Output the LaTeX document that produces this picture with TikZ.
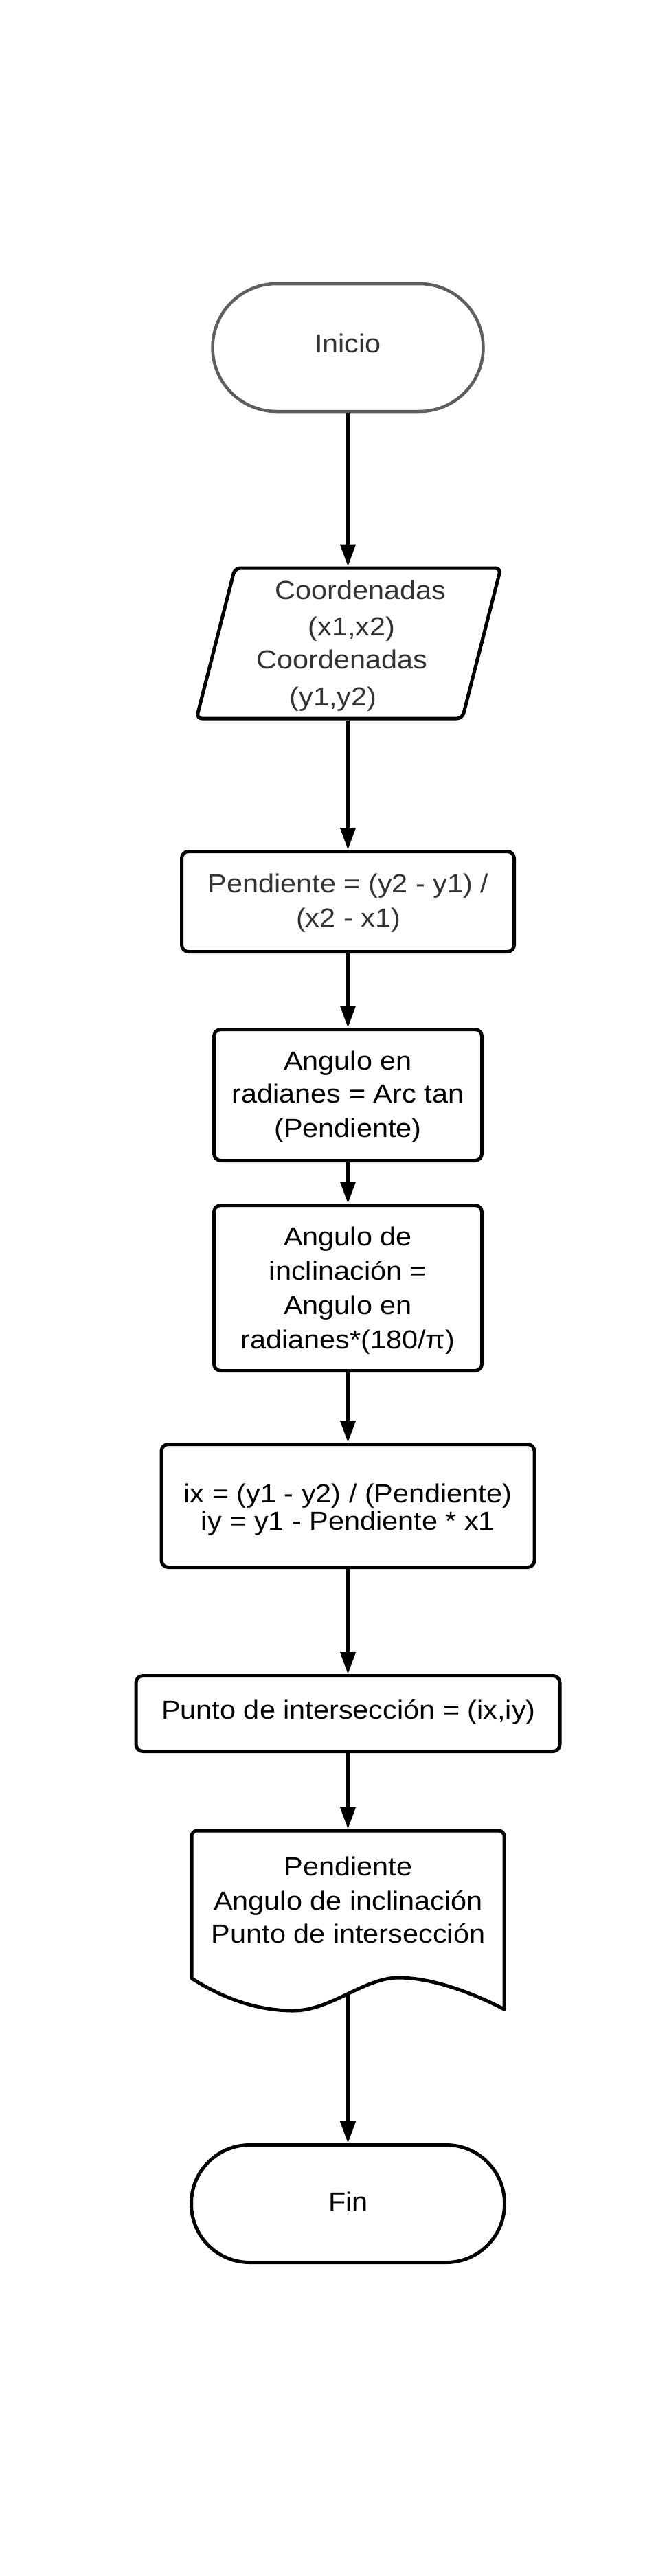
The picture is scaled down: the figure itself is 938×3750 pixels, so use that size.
\documentclass[tikz,border=0pt]{standalone}
\usepackage{fontspec}
\setmainfont{Liberation Sans}[FakeStretch=1.09]
\usetikzlibrary{arrows.meta}
\definecolor{txtgray}{HTML}{333333}
\definecolor{startgray}{HTML}{5E5E5E}
\begin{document}
\begin{tikzpicture}[x=1pt,y=-1pt,
  box/.style={draw=black, line width=5pt, rounded corners=10pt, fill=white, inner sep=0pt},
  termbox/.style={draw=black, line width=5pt, fill=white, inner sep=0pt},
  shapeline/.style={draw=black, line width=5pt, fill=white, line join=round},
  lbl/.style={anchor=base, font=\fontsize{38}{46}\selectfont, inner sep=0pt, text=black},
  glbl/.style={lbl, text=txtgray},
  conn/.style={draw=black, line width=4.5pt, -{Triangle[length=32pt,width=22pt]}}
]
\useasboundingbox (0,0) rectangle (938,3750);
\fill[white] (0,0) rectangle (938,3750);

% Inicio
\node[termbox, draw=startgray, line width=4.5pt, rounded corners=93pt, minimum width=394pt, minimum height=186pt] (inicio) at (506.5,506) {};
\node[glbl] (tinicio) at (506.5,513) {Inicio};

% Parallelogram (input)
\draw[shapeline, rounded corners=8pt] (342,827) -- (729,827) -- (673,1046) -- (286,1046) -- cycle;
\coordinate (parTop) at (506.5,824.5);
\coordinate (parBot) at (506.5,1048.5);
\node[glbl] (tp1) at (525,872) {Coordenadas};
\node[glbl] (tp2) at (512,925) {(x1,x2)};
\node[glbl] (tp3) at (498,973) {Coordenadas};
\node[glbl] (tp4) at (485,1027) {(y1,y2)};

% Pendiente
\node[box, minimum width=484pt, minimum height=146pt] (pend) at (506.5,1312.5) {};
\node[glbl] (tpe1) at (507,1299) {Pendiente = (y2 - y1) /};
\node[glbl] (tpe2) at (507,1349) {(x2 - x1)};

% Angulo en radianes
\node[box, minimum width=390pt, minimum height=191pt] (angen) at (506.5,1594) {};
\node[lbl] (tae1) at (506.5,1557) {Angulo en};
\node[lbl] (tae2) at (506.5,1605) {radianes = Arc tan};
\node[lbl] (tae3) at (506.5,1655) {(Pendiente)};

% Angulo de inclinacion
\node[box, minimum width=390pt, minimum height=241pt] (angde) at (506.5,1875) {};
\node[lbl] (tad1) at (506.5,1813) {Angulo de};
\node[lbl] (tad2) at (506.5,1863) {inclinación =};
\node[lbl] (tad3) at (506.5,1913) {Angulo en};
\node[lbl] (tad4) at (506.5,1963) {radianes*(180/π)};

% ix iy
\node[box, minimum width=543pt, minimum height=179pt] (ixy) at (506.5,2192) {};
\node[lbl] (tix1) at (506.5,2187) {ix = (y1 - y2) / (Pendiente)};
\node[lbl] (tix2) at (506.5,2227) {iy = y1 - Pendiente * x1};

% Punto de interseccion
\node[box, minimum width=617pt, minimum height=110pt] (punto) at (506.5,2494.5) {};
\node[lbl] (tpu) at (507.5,2502) {Punto de intersección = (ix,iy)};

% Document (output)
\draw[shapeline] (279,2880) -- (279,2673) arc[start angle=180, end angle=270, radius=8] -- (726,2665) arc[start angle=270, end angle=360, radius=8] -- (734,2925)
  .. controls (690,2902) and (630,2879) .. (580,2879)
  .. controls (530,2879) and (482,2927) .. (427,2927)
  .. controls (370,2927) and (320,2906) .. (279,2880) -- cycle;
\coordinate (docTop) at (506.5,2662.5);
\coordinate (docBot) at (506.5,2903);
\node[lbl] (td1) at (507,2730) {Pendiente};
\node[lbl] (td2) at (507,2780) {Angulo de inclinación};
\node[lbl] (td3) at (507,2828) {Punto de intersección};

% Fin
\node[termbox, rounded corners=85pt, minimum width=456pt, minimum height=171pt] (fin) at (506.5,3208) {};
\node[lbl] (tfin) at (507,3218) {Fin};

% Connectors
\draw[conn] (inicio.south) -- (parTop);
\draw[conn] (parBot) -- (pend.north);
\draw[conn] (pend.south) -- (angen.north);
\draw[conn] (angen.south) -- (angde.north);
\draw[conn] (angde.south) -- (ixy.north);
\draw[conn] (ixy.south) -- (punto.north);
\draw[conn] (punto.south) -- (docTop);
\draw[conn] (docBot) -- (fin.north);
\end{tikzpicture}
\end{document}
